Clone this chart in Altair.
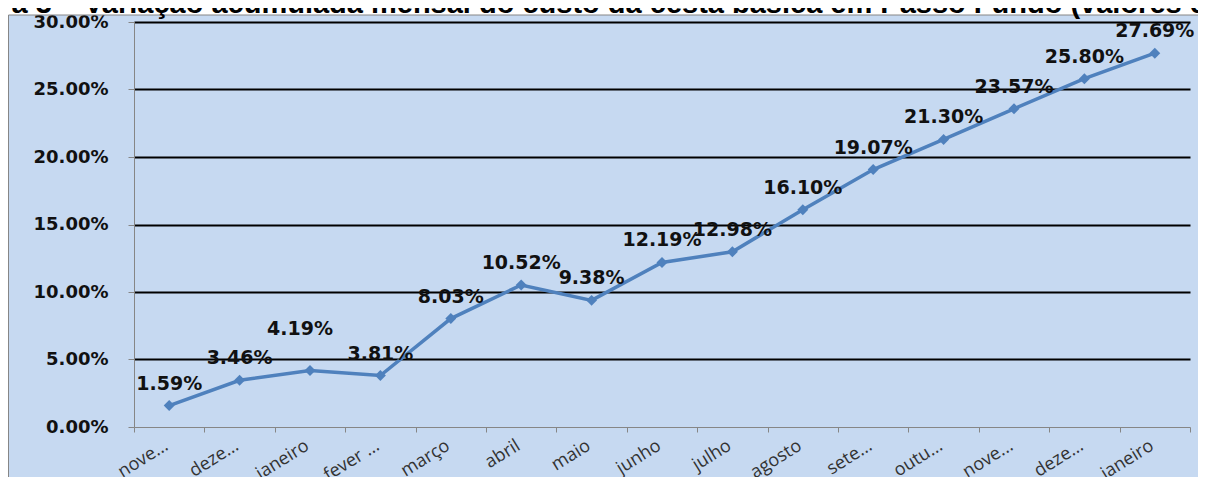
import json
import altair as alt
import pandas as pd

# ---- data ----
months = ["novembro", "dezembro", "janeiro", "fevereiro", "março", "abril", "maio",
          "junho", "julho", "agosto", "setembro", "outubro", "novembro", "dezembro", "janeiro"]
tick_labels = ["nove...", "deze...", "janeiro", "fever ...", "março", "abril", "maio",
               "junho", "julho", "agosto", "sete...", "outu...", "nove...", "deze...", "janeiro"]
values_pct = [1.59, 3.46, 4.19, 3.81, 8.03, 10.52, 9.38, 12.19, 12.98, 16.10,
              19.07, 21.30, 23.57, 25.80, 27.69]
y_ticks = [0.0, 0.05, 0.10, 0.15, 0.20, 0.25, 0.30]
title_text = "Figura 3 – Variação acumulada mensal do custo da cesta básica em Passo Fundo (valores em %)"

df = pd.DataFrame({
    "idx": list(range(len(months))),
    "month": months,
    "value": [v / 100 for v in values_pct],
    "label": [f"{v:.2f}%" for v in values_pct],
})

BLUE_BG = "#C6D9F1"
LINE = "#4F81BD"
GRAY = "#868686"

W, H = 1056, 405
PAD = {"left": 126, "top": 14, "right": 8, "bottom": 50}

label_expr = "[" + ",".join(json.dumps(t, ensure_ascii=False) for t in tick_labels) + "][datum.value]"

x_enc = alt.X(
    "idx:O",
    scale=alt.Scale(type="band", paddingInner=0, paddingOuter=0),
    axis=alt.Axis(
        title=None, labelExpr=label_expr, labelAngle=-32, labelAlign="right",
        labelBaseline="middle", labelFont="Open Sans", labelFontSize=18,
        labelColor="#333333", labelPadding=12, labelOffset=-3, tickBand="extent",
        domainColor=GRAY, tickColor=GRAY, tickSize=5, grid=False,
    ),
)
y_enc = alt.Y(
    "value:Q",
    scale=alt.Scale(domain=[0, 0.30], nice=False, zero=True),
    axis=alt.Axis(
        title=None, values=y_ticks, format=".2%",
        labelFont="DejaVu Sans", labelFontWeight="bold", labelFontSize=18,
        labelColor="#111111", labelPadding=20,
        domainColor=GRAY, tickColor=GRAY, tickSize=6,
        gridColor="black", gridWidth=2,
        gridOpacity=alt.condition("datum.value === 0", alt.value(0), alt.value(1)),
    ),
)

base = alt.Chart(df)

line = base.mark_line(color=LINE, strokeWidth=3.5).encode(x=x_enc, y=y_enc)
points = base.mark_point(shape="diamond", filled=True, size=120, color=LINE, opacity=1).encode(
    x=x_enc, y=y_enc)

labels = base.transform_filter("datum.idx !== 2").mark_text(
    font="DejaVu Sans", fontWeight="bold", fontSize=19, color="#111111", dy=-22
).encode(x=x_enc, y=y_enc, text="label:N")
label_high = base.transform_filter("datum.idx === 2").mark_text(
    font="DejaVu Sans", fontWeight="bold", fontSize=19, color="#111111", dy=-41, dx=-10
).encode(x=x_enc, y=y_enc, text="label:N")

# decorations: white strip above the panel, panel border, clipped title
deco = alt.Chart(pd.DataFrame({"t": [title_text]}))
strip = deco.mark_rect(fill="white", stroke=None).encode(
    x=alt.value(-PAD["left"]), x2=alt.value(W + PAD["right"]),
    y=alt.value(-PAD["top"]), y2=alt.value(-7))
border_top = deco.mark_rule(color=GRAY, strokeWidth=1).encode(
    x=alt.value(-PAD["left"] + 0.5), x2=alt.value(W + PAD["right"]), y=alt.value(-7))
border_left = deco.mark_rule(color=GRAY, strokeWidth=1).encode(
    x=alt.value(-PAD["left"] + 0.5), y=alt.value(-7), y2=alt.value(H + PAD["bottom"]))
title = deco.mark_text(
    font="Liberation Sans", fontWeight="bold", fontSize=29, color="black",
    align="left", baseline="alphabetic"
).encode(x=alt.value(-195), y=alt.value(-9), text="t:N")

chart = alt.layer(strip, border_top, border_left, title, line, points, labels, label_high).properties(
    width=W, height=H, padding=PAD,
    autosize=alt.AutoSizeParams(type="none"),
).configure(background=BLUE_BG).configure_view(stroke=None)

chart.save("out.html", embed_options={"renderer": "svg", "actions": False})
